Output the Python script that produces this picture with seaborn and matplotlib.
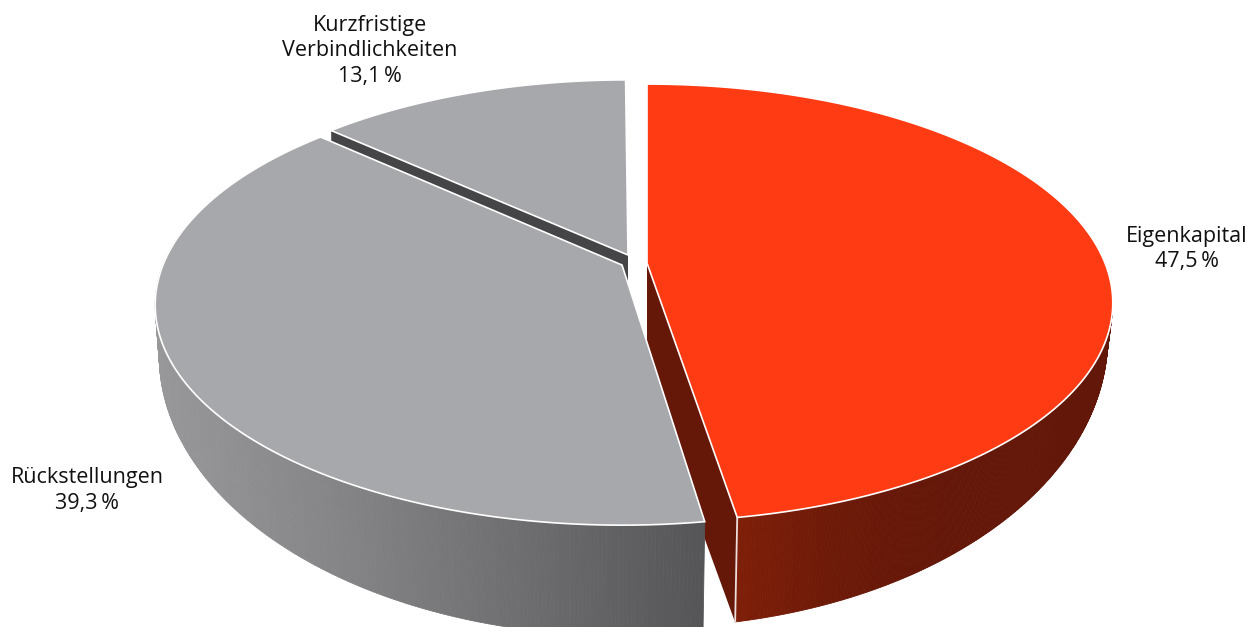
import numpy as np
import matplotlib
matplotlib.use("Agg")
import matplotlib.pyplot as plt
from matplotlib.collections import PolyCollection
import seaborn as sns

# ---- data ----
categories = ["Eigenkapital", "Rückstellungen", "Kurzfristige\nVerbindlichkeiten"]
shares = [47.5, 39.3, 13.1]

# ---- style / geometry (pixel axes, projective disc) ----
W, H = 1253, 627
TOP_COL = ["#FF3B14", "#A7A8AB", "#A7A8AB"]
CUT_COL = ["#651708", "#4A4A4C", "#454547"]
WALL_STOPS = [["#7E1E08", "#6E1A08", "#651708", "#631708"],
              ["#98989A", "#858587", "#6E6E70", "#555557"], None]
# top face: apex x, apex y, a, b, p
TOPS = [(647, 263, 458, 211.5, .182), (622, 265, 459, 212.8, .182), (628, 255, 452, 207, .182)]
# bottom rim of outer wall
BOTTOMS = [(647, 288, 454, 281.6, .17), (622, 308, 456, 272, .17), None]
TRIMS = [(0, .3), (-.5, 0), (0, 0)]
WALL_FROM = [-12, None, None]
WALL_TO = [None, -190, None]
CUT_BOTTOM = [(647, 380), None, (628, 300)]
CUT_DEPTH_END = [(735, 622), None, (332, 230)]
LABEL_POS = [(1187, 249), (87, 490.5), (370, 51)]

sns.set_theme(style="white")
plt.rcParams["font.family"] = ["Open Sans", "DejaVu Sans"]


def project(t, geo):
    x0, y0, a, b, p = geo
    t = np.radians(t)
    u, v = np.cos(t), np.sin(t)
    d = 1 + p * v
    return x0 + a * u / d, y0 - b * v / d


fig = plt.figure(figsize=(W / 100, H / 100), dpi=100)
ax = fig.add_axes([0, 0, 1, 1])
ax.set_xlim(0, W)
ax.set_ylim(H, 0)
ax.axis("off")

edges = 90 - np.cumsum([0] + shares) * 3.6
spans = [(edges[i] + TRIMS[i][0], edges[i + 1] + TRIMS[i][1]) for i in range(3)]

# cut faces behind the top faces
for i in (2, 0):
    start, end = spans[i]
    corner_t = end if i == 0 else start
    cx, cy = project(corner_t, TOPS[i])
    poly = [(TOPS[i][0], TOPS[i][1]), (cx, cy), CUT_DEPTH_END[i], CUT_BOTTOM[i]]
    ax.fill(*zip(*poly), color=CUT_COL[i], lw=0, zorder=1)

# outer walls with a horizontal gradient
for i in (0, 1):
    start, end = spans[i]
    hi = WALL_FROM[i] if WALL_FROM[i] is not None else start
    lo = WALL_TO[i] if WALL_TO[i] is not None else end
    ts = np.linspace(hi, lo, 260)
    xt, yt = project(ts, TOPS[i])
    xb, yb = project(ts, BOTTOMS[i])
    quads = [[(xt[k], yt[k]), (xt[k + 1], yt[k + 1]), (xb[k + 1], yb[k + 1]), (xb[k], yb[k])]
             for k in range(len(ts) - 1)]
    pal = sns.blend_palette(WALL_STOPS[i], n_colors=300)
    mid = (xb[:-1] + xb[1:]) / 2
    if i == 0:
        f = np.clip((mid - 735) / (1000 - 735), 0, 1)
    else:
        f = np.clip((mid - 157) / (703 - 157), 0, 1)
    cols = [pal[int(q * 299)] for q in f]
    ax.add_collection(PolyCollection(quads, facecolors=cols, edgecolors=cols, linewidths=.6, zorder=2))
    # white line on the wall corner
    ex, ey = project(spans[i][1], TOPS[i])
    fx, fy = project(spans[i][1], BOTTOMS[i])
    ax.plot([ex, fx], [ey, fy], color="white", lw=1.3, alpha=.85, zorder=3, solid_capstyle="butt")

# top faces
for i in range(3):
    start, end = spans[i]
    ts = np.linspace(start, end, 240)
    x, y = project(ts, TOPS[i])
    px = np.r_[TOPS[i][0], x]
    py = np.r_[TOPS[i][1], y]
    ax.fill(px, py, facecolor=TOP_COL[i], edgecolor="white", lw=1.2, zorder=4 + (i == 2), joinstyle="miter")

# labels
for name, share, (lx, ly) in zip(categories, shares, LABEL_POS):
    value = f"{share:.1f}".replace(".", ",") + "\u2009%"
    ax.text(lx, ly, f"{name}\n{value}", ha="center", va="center", fontsize=15.5,
            color="#111111", linespacing=1.26, zorder=6)

fig.savefig("out.png", dpi=100, facecolor="white")
